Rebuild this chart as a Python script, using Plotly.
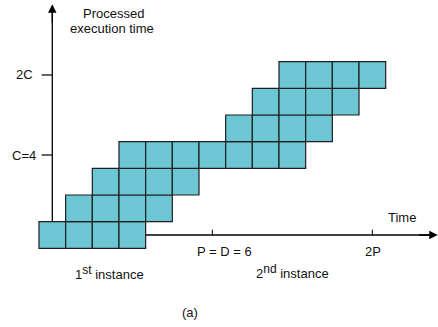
import plotly.graph_objects as go

# staircase of executed units: each row starts at a column and spans a number of unit squares
row_level = [0, 1, 2, 3, 4, 5, 6]
row_start = [0, 1, 2, 3, 7, 8, 9]
row_count = [4, 4, 4, 7, 4, 4, 4]

x_ticks = [6, 12]
x_tick_labels = ["P = D = 6", "2P"]
y_ticks = [3, 6]
y_tick_labels = ["C=4", "2C"]

FILL = "#6CC6D4"
EDGE = "#1e1e1e"
FONT = "Liberation Sans, Arial, sans-serif"

W, H = 438, 327
CELL = 26.67
OX, OY = 52.3, 235.0  # pixel position of the axes origin


def paper(px, py):
    return px / W, 1 - py / H


fig = go.Figure()

# invisible trace so the axes exist
fig.add_trace(go.Scatter(x=[0], y=[0], mode="markers", marker=dict(opacity=0),
                         hoverinfo="skip", showlegend=False))

shapes = []
# axis lines (below the squares)
shapes.append(dict(type="line", xref="x", yref="y", x0=0, y0=0, x1=0, y1=8.4,
                   line=dict(color="black", width=1.3), layer="below"))
shapes.append(dict(type="line", xref="x", yref="y", x0=0, y0=0, x1=14.2, y1=0,
                   line=dict(color="black", width=1.3), layer="below"))
for t in y_ticks:
    shapes.append(dict(type="line", xref="x", yref="y", x0=-0.4, y0=t, x1=0, y1=t,
                       line=dict(color="black", width=1.2)))
for t in x_ticks:
    shapes.append(dict(type="line", xref="x", yref="y", x0=t, y0=0, x1=t, y1=0.2,
                       line=dict(color="black", width=1)))

# unit squares, centred on integer grid points
for lvl, s, n in zip(row_level, row_start, row_count):
    for i in range(s, s + n):
        shapes.append(dict(type="rect", xref="x", yref="y",
                           x0=i - 0.5, x1=i + 0.5, y0=lvl - 0.5, y1=lvl + 0.5,
                           fillcolor=FILL, line=dict(color=EDGE, width=1.2),
                           layer="above"))

annotations = []
# arrowheads
annotations.append(dict(x=0, y=8.65, ax=0, ay=7.9, xref="x", yref="y", axref="x", ayref="y",
                        text="", showarrow=True, arrowhead=2, arrowsize=1.3,
                        arrowwidth=1.3, arrowcolor="black"))
annotations.append(dict(x=14.45, y=0, ax=13.7, ay=0, xref="x", yref="y", axref="x", ayref="y",
                        text="", showarrow=True, arrowhead=2, arrowsize=1.3,
                        arrowwidth=1.3, arrowcolor="black"))


def label(text, px, py, xanchor="center", size=13):
    x, y = paper(px, py)
    annotations.append(dict(x=x, y=y, xref="paper", yref="paper", text=text,
                            showarrow=False, xanchor=xanchor, yanchor="middle",
                            font=dict(family=FONT, size=size, color="#111")))


SUP = '<sup><span style="font-size:12px">{}</span></sup>'

label("Processed", 113, 13)
label("execution time", 112, 29)
label(y_tick_labels[1], 35, 75, xanchor="right")
label(y_tick_labels[0], 38, 155, xanchor="right")
label("Time", 402, 217)
label(x_tick_labels[0], 224, 251)
label(x_tick_labels[1], 373, 251)
label("1" + SUP.format("st") + " instance", 109, 272)
label("2" + SUP.format("nd") + " instance", 292, 271)
label("(a)", 190, 312)

x_left = -OX / CELL
x_right = (W - OX) / CELL
y_top = OY / CELL
y_bottom = -(H - OY) / CELL

fig.update_layout(
    width=W, height=H,
    margin=dict(l=0, r=0, t=0, b=0),
    paper_bgcolor="white", plot_bgcolor="white",
    xaxis=dict(range=[x_left, x_right], visible=False, fixedrange=True),
    yaxis=dict(range=[y_bottom, y_top], visible=False, fixedrange=True),
    shapes=shapes,
    annotations=annotations,
    showlegend=False,
)

fig.write_html("out.html", config={"displayModeBar": False},
               post_script="document.body.style.margin='0';")
